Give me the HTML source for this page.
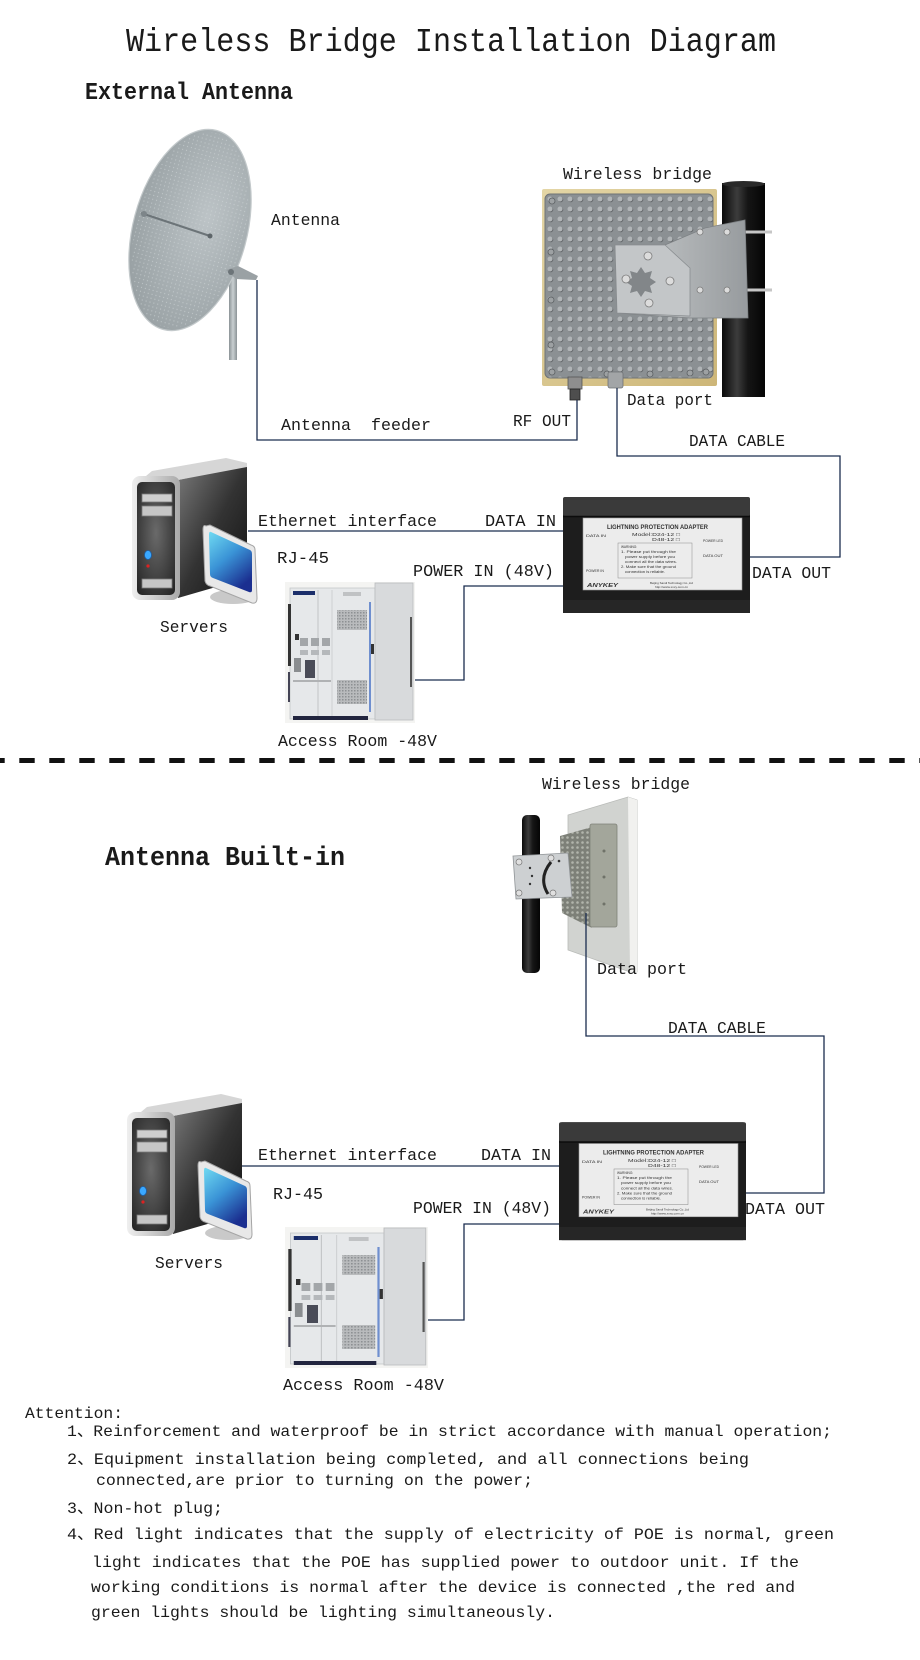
<!DOCTYPE html>
<html>
<head>
<meta charset="utf-8">
<style>
html,body{margin:0;padding:0;background:#fff;}
svg{display:block;}
.t{font-family:"Liberation Mono","Noto Sans CJK SC",monospace;fill:#1a1a1a;white-space:pre;}
.ln{fill:none;stroke:#1b2d4f;stroke-width:1.3;}
.tiny{font-family:"Liberation Sans",sans-serif;fill:#333;}
</style>
</head>
<body>
<svg xmlns="http://www.w3.org/2000/svg" width="920" height="1660" viewBox="0 0 920 1660">
<defs>
  <radialGradient id="dishGrad" cx="0.62" cy="0.42" r="0.75">
    <stop offset="0" stop-color="#bcc3c6"/>
    <stop offset="0.6" stop-color="#a4acaf"/>
    <stop offset="1" stop-color="#939b9e"/>
  </radialGradient>
  <pattern id="dishDots" width="4" height="4" patternUnits="userSpaceOnUse">
    <circle cx="2" cy="2" r="0.6" fill="#d2d7d9" opacity="0.6"/>
  </pattern>
  <linearGradient id="dishPole" x1="0" x2="1" y1="0" y2="0">
    <stop offset="0" stop-color="#8b9396"/>
    <stop offset="0.5" stop-color="#c9cfd1"/>
    <stop offset="1" stop-color="#8b9396"/>
  </linearGradient>
  <linearGradient id="poleGrad" x1="0" x2="1" y1="0" y2="0">
    <stop offset="0" stop-color="#0a0a0a"/>
    <stop offset="0.35" stop-color="#3c3c3c"/>
    <stop offset="0.6" stop-color="#151515"/>
    <stop offset="1" stop-color="#050505"/>
  </linearGradient>
  <linearGradient id="tanGrad" x1="0" x2="1" y1="0" y2="1">
    <stop offset="0" stop-color="#e4d6a6"/>
    <stop offset="1" stop-color="#cdb678"/>
  </linearGradient>
  <pattern id="dots1" width="10" height="10" patternUnits="userSpaceOnUse" x="545" y="194">
    <rect width="10" height="10" fill="#8b9093"/>
    <circle cx="5.7" cy="5.7" r="2.6" fill="#666a6d"/>
    <circle cx="5" cy="5" r="2.5" fill="#b1b5b7"/>
  </pattern>
  <pattern id="dots2" width="5" height="5" patternUnits="userSpaceOnUse">
    <rect width="5" height="5" fill="#7d8078"/>
    <circle cx="2.5" cy="2.5" r="1.3" fill="#b2b5ac"/>
  </pattern>
  <linearGradient id="srvSide" x1="0" x2="1" y1="0" y2="1">
    <stop offset="0" stop-color="#7a7a7a"/>
    <stop offset="0.5" stop-color="#333"/>
    <stop offset="1" stop-color="#111"/>
  </linearGradient>
  <linearGradient id="bezel" x1="0" x2="1" y1="0" y2="0">
    <stop offset="0" stop-color="#efefef"/>
    <stop offset="1" stop-color="#a9a9a9"/>
  </linearGradient>
  <radialGradient id="front" cx="0.5" cy="0.45" r="0.7">
    <stop offset="0" stop-color="#6a6a6a"/>
    <stop offset="1" stop-color="#262626"/>
  </radialGradient>
  <linearGradient id="screen" x1="0" x2="0.6" y1="0" y2="1">
    <stop offset="0" stop-color="#6fdaf2"/>
    <stop offset="0.5" stop-color="#3a93d6"/>
    <stop offset="1" stop-color="#1b2f90"/>
  </linearGradient>
  <linearGradient id="bracketGrad" x1="0" x2="1" y1="0" y2="0">
    <stop offset="0" stop-color="#c9cccd"/>
    <stop offset="1" stop-color="#979b9e"/>
  </linearGradient>
  <pattern id="grill" width="3" height="3" patternUnits="userSpaceOnUse">
    <rect width="3" height="3" fill="#b9bbbd"/>
    <rect width="1.5" height="1.5" fill="#8d9093"/>
  </pattern>

  <g id="server">
    <polygon points="178,480 247,465 247,578 178,598" fill="url(#srvSide)"/>
    <polygon points="134,486 152,471 226,458 247,463 247,467 178,480" fill="#d6d6d6"/>
    <rect x="132" y="476" width="48" height="124" rx="8" fill="url(#bezel)"/>
    <rect x="137" y="482" width="38" height="113" rx="5" fill="url(#front)"/>
    <rect x="142" y="494" width="30" height="8" fill="#cfcfcf" stroke="#7a7a7a" stroke-width="0.8"/>
    <rect x="142" y="506" width="30" height="10" fill="#c6c6c6" stroke="#7a7a7a" stroke-width="0.8"/>
    <rect x="142" y="579" width="30" height="9" fill="#c6c6c6" stroke="#7a7a7a" stroke-width="0.8"/>
    <ellipse cx="148" cy="555" rx="3.5" ry="4.5" fill="#3aa8ff" stroke="#1c5fa8" stroke-width="0.8"/>
    <circle cx="148" cy="566" r="1.6" fill="#d22"/>
    <ellipse cx="233" cy="597" rx="23" ry="7" fill="#c9c9c9"/>
    <path d="M206,526 Q203,524 203,530 L205,581 Q206,585 210,586 L252,603 Q257,604 257,598 L255,550 Q255,546 251,545 L210,525 Z" fill="#e8e8e8" stroke="#a5a5a5" stroke-width="1"/>
    <path d="M211,532 L250,550 Q252,551 252,554 L252,590 Q252,593 249,592 L213,578 Q210,577 210,574 L209,535 Q209,531 211,532 Z" fill="url(#screen)"/>
  </g>

  <g id="adapter">
    <rect x="563" y="497" width="187" height="116" rx="3" fill="#1d1d1d"/>
    <rect x="563" y="497" width="187" height="19" rx="2" fill="#3a3a3a"/>
    <line x1="563" y1="516.5" x2="750" y2="516.5" stroke="#0c0c0c" stroke-width="1.5"/>
    <rect x="563" y="600" width="187" height="13" fill="#262626"/>
    <rect x="583" y="518" width="159" height="72" fill="#ececec" stroke="#9a9a9a" stroke-width="0.6"/>
    <text class="tiny" x="607" y="529" font-size="6" font-weight="bold" textLength="101" lengthAdjust="spacingAndGlyphs">LIGHTNING PROTECTION ADAPTER</text>
    <text class="tiny" x="632" y="536" font-size="4.5" textLength="48" lengthAdjust="spacingAndGlyphs">Model:D24-12 □</text>
    <text class="tiny" x="652" y="541" font-size="4.5" textLength="28" lengthAdjust="spacingAndGlyphs">D48-12 □</text>
    <text class="tiny" x="586" y="537" font-size="3.5" textLength="20" lengthAdjust="spacingAndGlyphs">DATA IN</text>
    <text class="tiny" x="703" y="542" font-size="3.5" textLength="20" lengthAdjust="spacingAndGlyphs">POWER LED</text>
    <text class="tiny" x="703" y="557" font-size="3.5" textLength="20" lengthAdjust="spacingAndGlyphs">DATA OUT</text>
    <text class="tiny" x="586" y="572" font-size="3.5" textLength="18" lengthAdjust="spacingAndGlyphs">POWER IN</text>
    <rect x="618" y="543" width="74" height="35" fill="none" stroke="#8a8a8a" stroke-width="0.5"/>
    <text class="tiny" x="621" y="548" font-size="3.2">WARNING:</text>
    <text class="tiny" x="621" y="553" font-size="3.2" textLength="55" lengthAdjust="spacingAndGlyphs">1. Please put through the</text>
    <text class="tiny" x="625" y="558" font-size="3.2" textLength="50" lengthAdjust="spacingAndGlyphs">power supply before you</text>
    <text class="tiny" x="625" y="563" font-size="3.2" textLength="52" lengthAdjust="spacingAndGlyphs">connect all the data wires.</text>
    <text class="tiny" x="621" y="568" font-size="3.2" textLength="55" lengthAdjust="spacingAndGlyphs">2. Make sure that the ground</text>
    <text class="tiny" x="625" y="573" font-size="3.2" textLength="40" lengthAdjust="spacingAndGlyphs">connection is reliable.</text>
    <text class="tiny" x="587" y="587" font-size="5.5" font-weight="bold" font-style="italic" textLength="31" lengthAdjust="spacingAndGlyphs">ANYKEY</text>
    <text class="tiny" x="650" y="584" font-size="3" textLength="43" lengthAdjust="spacingAndGlyphs">Beijing Sandi Technology Co.,Ltd</text>
    <text class="tiny" x="655" y="588" font-size="3" textLength="33" lengthAdjust="spacingAndGlyphs">http://www.xxxy.com.cn</text>
  </g>

  <g id="cabinet">
    <rect x="0" y="0" width="130" height="141" fill="#f4f4f2"/>
    <rect x="5" y="6" width="85" height="131" fill="#e6e8ea" stroke="#c5c7c9" stroke-width="0.8"/>
    <rect x="8" y="9" width="22" height="4" fill="#1b2e6a"/>
    <rect x="3" y="22" width="3" height="62" fill="#333"/>
    <rect x="3" y="90" width="2" height="30" fill="#445"/>
    <line x1="33" y1="8" x2="33" y2="135" stroke="#b8babd" stroke-width="0.8"/>
    <line x1="47" y1="8" x2="47" y2="135" stroke="#c9cbcd" stroke-width="0.8"/>
    <rect x="15" y="56" width="8" height="8" fill="#a3a6a9"/>
    <rect x="26" y="56" width="8" height="8" fill="#a3a6a9"/>
    <rect x="37" y="56" width="8" height="8" fill="#a3a6a9"/>
    <rect x="15" y="68" width="8" height="5" fill="#b5b8bb"/>
    <rect x="26" y="68" width="8" height="5" fill="#b5b8bb"/>
    <rect x="37" y="68" width="8" height="5" fill="#b5b8bb"/>
    <rect x="10" y="52" width="4" height="6" fill="#333"/>
    <rect x="9" y="76" width="7" height="14" fill="#8a8d90"/>
    <rect x="20" y="78" width="10" height="18" fill="#4a4c58"/>
    <rect x="8" y="98" width="38" height="2" fill="#b0b2b4"/>
    <rect x="52" y="28" width="30" height="20" fill="url(#grill)"/>
    <rect x="52" y="98" width="30" height="24" fill="url(#grill)"/>
    <rect x="58" y="10" width="18" height="4" fill="#c0c2c4"/>
    <rect x="84" y="20" width="2" height="110" fill="#6f8fcf"/>
    <rect x="86" y="62" width="3" height="10" fill="#333"/>
    <rect x="90" y="1" width="38" height="137" fill="#d8dadc" stroke="#b9bbbd" stroke-width="0.8"/>
    <rect x="125" y="35" width="2" height="70" fill="#555"/>
    <rect x="8" y="134" width="75" height="4" fill="#22253f"/>
  </g>
</defs>

<rect x="0" y="0" width="920" height="1660" fill="#fff"/>

<!-- ===== TOP SECTION ===== -->
<text class="t" x="126" y="51" font-size="33" textLength="650" lengthAdjust="spacingAndGlyphs">Wireless Bridge Installation Diagram</text>
<text class="t" x="85" y="99" font-size="24" font-weight="bold" textLength="208" lengthAdjust="spacingAndGlyphs">External Antenna</text>

<!-- dish antenna -->
<rect x="229" y="268" width="8" height="92" fill="url(#dishPole)"/>
<ellipse cx="190" cy="230" rx="57" ry="103" transform="rotate(15 190 230)" fill="url(#dishGrad)" stroke="#c3c9cb" stroke-width="1.2"/>
<ellipse cx="190" cy="230" rx="54" ry="100" transform="rotate(15 190 230)" fill="url(#dishDots)"/>
<line x1="141" y1="213" x2="210" y2="236" stroke="#6c7478" stroke-width="2"/>
<circle cx="144" cy="214" r="3" fill="#7d8589"/>
<circle cx="210" cy="236" r="2.5" fill="#5d6569"/>
<polygon points="226,270 238,266 258,276 256,280 236,279" fill="#9aa1a4"/>
<circle cx="231" cy="272" r="3" fill="#6c7478"/>

<text class="t" x="271" y="225" font-size="17" textLength="69" lengthAdjust="spacingAndGlyphs">Antenna</text>

<!-- top wireless bridge -->
<text class="t" x="563" y="179" font-size="17" textLength="149" lengthAdjust="spacingAndGlyphs">Wireless bridge</text>
<rect x="542" y="189" width="175" height="197" rx="2" fill="url(#tanGrad)"/>
<rect x="545" y="194" width="168" height="184" rx="5" fill="url(#dots1)" stroke="#6f7376" stroke-width="1"/>
<g fill="#9da1a3" stroke="#5c6063" stroke-width="0.8">
  <circle cx="552" cy="201" r="3"/><circle cx="551" cy="252" r="3"/><circle cx="551" cy="300" r="3"/><circle cx="551" cy="345" r="3"/><circle cx="552" cy="372" r="3"/>
  <circle cx="607" cy="374" r="3"/><circle cx="650" cy="374" r="3"/><circle cx="690" cy="373" r="3"/><circle cx="706" cy="372" r="3"/>
</g>
<rect x="722" y="183" width="43" height="214" fill="url(#poleGrad)"/>
<ellipse cx="743.5" cy="184" rx="21.5" ry="3" fill="#2a2a2a"/>
<line x1="698" y1="232" x2="772" y2="232" stroke="#c6c6c6" stroke-width="3"/>
<line x1="694" y1="290" x2="772" y2="290" stroke="#c6c6c6" stroke-width="3"/>
<polygon points="615,245 665,245 705,228 745,220 748,318 690,318 617,313" fill="url(#bracketGrad)" stroke="#7e8285" stroke-width="0.8"/>
<polygon points="615,245 665,245 690,268 690,316 617,313" fill="#c3c6c8" stroke="#8a8e91" stroke-width="0.8"/>
<polygon points="641,267 645,273 652,271 650,278 656,282 650,286 652,293 645,291 641,297 637,291 630,293 632,286 626,282 632,278 630,271 637,273" fill="#828689"/>
<g fill="#dcdcdc" stroke="#7c7c7c" stroke-width="0.8">
  <circle cx="648" cy="256" r="4"/><circle cx="626" cy="279" r="4"/><circle cx="670" cy="281" r="4"/><circle cx="649" cy="303" r="4"/>
  <circle cx="727" cy="232" r="3"/><circle cx="727" cy="290" r="3"/><circle cx="700" cy="232" r="3"/><circle cx="700" cy="290" r="3"/>
</g>
<rect x="568" y="377" width="14" height="12" fill="#8e8e8e" stroke="#555" stroke-width="0.8"/>
<rect x="570" y="389" width="10" height="11" fill="#4e4e4e" stroke="#222" stroke-width="0.8"/>
<rect x="608" y="372" width="15" height="16" rx="2" fill="#a2a5a7" stroke="#6f7275" stroke-width="0.8"/>
<text class="t" x="627" y="405" font-size="17" textLength="86" lengthAdjust="spacingAndGlyphs">Data port</text>
<text class="t" x="513" y="426" font-size="17" textLength="58" lengthAdjust="spacingAndGlyphs">RF OUT</text>
<text class="t" x="281" y="430" font-size="17" textLength="150" lengthAdjust="spacingAndGlyphs">Antenna  feeder</text>
<text class="t" x="689" y="446" font-size="17" textLength="96" lengthAdjust="spacingAndGlyphs">DATA CABLE</text>

<path class="ln" d="M257,280 V440 H577 V400"/>
<path class="ln" d="M617,388 V456 H840 V557 H750"/>
<path class="ln" d="M248,531 H563"/>
<path class="ln" d="M563,586 H464 V680 H415"/>

<use href="#server"/>
<use href="#adapter"/>
<use href="#cabinet" transform="translate(285,582)"/>

<text class="t" x="258" y="526" font-size="17" textLength="179" lengthAdjust="spacingAndGlyphs">Ethernet interface</text>
<text class="t" x="485" y="526" font-size="17" textLength="71" lengthAdjust="spacingAndGlyphs">DATA IN</text>
<text class="t" x="277" y="563" font-size="17" textLength="52" lengthAdjust="spacingAndGlyphs">RJ-45</text>
<text class="t" x="413" y="576" font-size="17" textLength="141" lengthAdjust="spacingAndGlyphs">POWER IN (48V)</text>
<text class="t" x="752" y="578" font-size="17" textLength="79" lengthAdjust="spacingAndGlyphs">DATA OUT</text>
<text class="t" x="160" y="632" font-size="17" textLength="68" lengthAdjust="spacingAndGlyphs">Servers</text>
<text class="t" x="278" y="746" font-size="17" textLength="159" lengthAdjust="spacingAndGlyphs">Access Room -48V</text>

<line x1="0" y1="760.5" x2="920" y2="760.5" stroke="#111" stroke-width="5" stroke-dasharray="15.4 14.6" stroke-dashoffset="10.7"/>

<!-- ===== BOTTOM SECTION ===== -->
<text class="t" x="542" y="789" font-size="17" textLength="148" lengthAdjust="spacingAndGlyphs">Wireless bridge</text>
<text class="t" x="105" y="865" font-size="27" font-weight="bold" textLength="240" lengthAdjust="spacingAndGlyphs">Antenna Built-in</text>

<rect x="522" y="815" width="18" height="158" rx="5" fill="url(#poleGrad)"/>
<polygon points="568,815 628,797 637,800 637,972 630,972 568,950" fill="#d1d3d0" stroke="#b9bbb8" stroke-width="0.8"/>
<polygon points="628,797 637,800 637,972 630,972" fill="#f1f1ef"/>
<polygon points="560,836 592,827 592,928 562,913" fill="url(#dots2)"/>
<rect x="590" y="824" width="27" height="103" rx="2" fill="#a3a69b" stroke="#7f8278" stroke-width="0.8"/>
<g fill="#6f7269"><circle cx="604" cy="851" r="1.5"/><circle cx="604" cy="877" r="1.5"/><circle cx="604" cy="904" r="1.5"/></g>
<polygon points="513,856 568,853 572,897 516,899" fill="#cdd0d2" stroke="#8f9396" stroke-width="0.8"/>
<path d="M551,862 Q538,878 548,894" fill="none" stroke="#222" stroke-width="3"/>
<g fill="#e0e0e0" stroke="#777" stroke-width="0.7">
  <circle cx="519" cy="862" r="3"/><circle cx="519" cy="893" r="3"/><circle cx="551" cy="858" r="3"/><circle cx="553" cy="893" r="3"/>
</g>
<g fill="#333"><circle cx="530" cy="868" r="1.2"/><circle cx="532" cy="876" r="1.2"/><circle cx="530" cy="884" r="1.2"/><circle cx="559" cy="861" r="1.3"/></g>

<text class="t" x="597" y="974" font-size="17" textLength="90" lengthAdjust="spacingAndGlyphs">Data port</text>
<text class="t" x="668" y="1033" font-size="17" textLength="98" lengthAdjust="spacingAndGlyphs">DATA CABLE</text>

<path class="ln" d="M586,913 V1036 H824 V1193 H746"/>
<path class="ln" d="M242,1166 H559"/>
<path class="ln" d="M559,1224 H464 V1320 H428"/>

<use href="#server" transform="translate(-5,636)"/>
<use href="#adapter" transform="translate(-4,636) translate(559,1133) scale(1,1.017) translate(-559,-1133)"/>
<use href="#cabinet" transform="translate(285,1227) scale(1.1,1)"/>

<text class="t" x="258" y="1160" font-size="17" textLength="179" lengthAdjust="spacingAndGlyphs">Ethernet interface</text>
<text class="t" x="481" y="1160" font-size="17" textLength="70" lengthAdjust="spacingAndGlyphs">DATA IN</text>
<text class="t" x="273" y="1199" font-size="17" textLength="50" lengthAdjust="spacingAndGlyphs">RJ-45</text>
<text class="t" x="413" y="1213" font-size="17" textLength="138" lengthAdjust="spacingAndGlyphs">POWER IN (48V)</text>
<text class="t" x="745" y="1214" font-size="17" textLength="80" lengthAdjust="spacingAndGlyphs">DATA OUT</text>
<text class="t" x="155" y="1268" font-size="17" textLength="68" lengthAdjust="spacingAndGlyphs">Servers</text>
<text class="t" x="283" y="1390" font-size="17" textLength="161" lengthAdjust="spacingAndGlyphs">Access Room -48V</text>

<!-- ===== ATTENTION ===== -->
<text class="t" x="25" y="1418" font-size="16" textLength="98" lengthAdjust="spacingAndGlyphs">Attention:</text>
<text class="t" x="67" y="1436" font-size="16" textLength="765" lengthAdjust="spacingAndGlyphs">1、Reinforcement and waterproof be in strict accordance with manual operation;</text>
<text class="t" x="67" y="1464" font-size="16" textLength="682" lengthAdjust="spacingAndGlyphs">2、Equipment installation being completed, and all connections being</text>
<text class="t" x="96" y="1485" font-size="16" textLength="437" lengthAdjust="spacingAndGlyphs">connected,are prior to turning on the power;</text>
<text class="t" x="67" y="1513" font-size="16" textLength="156" lengthAdjust="spacingAndGlyphs">3、Non-hot plug;</text>
<text class="t" x="67" y="1539" font-size="16" textLength="767" lengthAdjust="spacingAndGlyphs">4、Red light indicates that the supply of electricity of POE is normal, green</text>
<text class="t" x="92" y="1567" font-size="16" textLength="707" lengthAdjust="spacingAndGlyphs">light indicates that the POE has supplied power to outdoor unit. If the</text>
<text class="t" x="91" y="1592" font-size="16" textLength="704" lengthAdjust="spacingAndGlyphs">working conditions is normal after the device is connected ,the red and</text>
<text class="t" x="91" y="1617" font-size="16" textLength="464" lengthAdjust="spacingAndGlyphs">green lights should be lighting simultaneously.</text>
</svg>
</body>
</html>
